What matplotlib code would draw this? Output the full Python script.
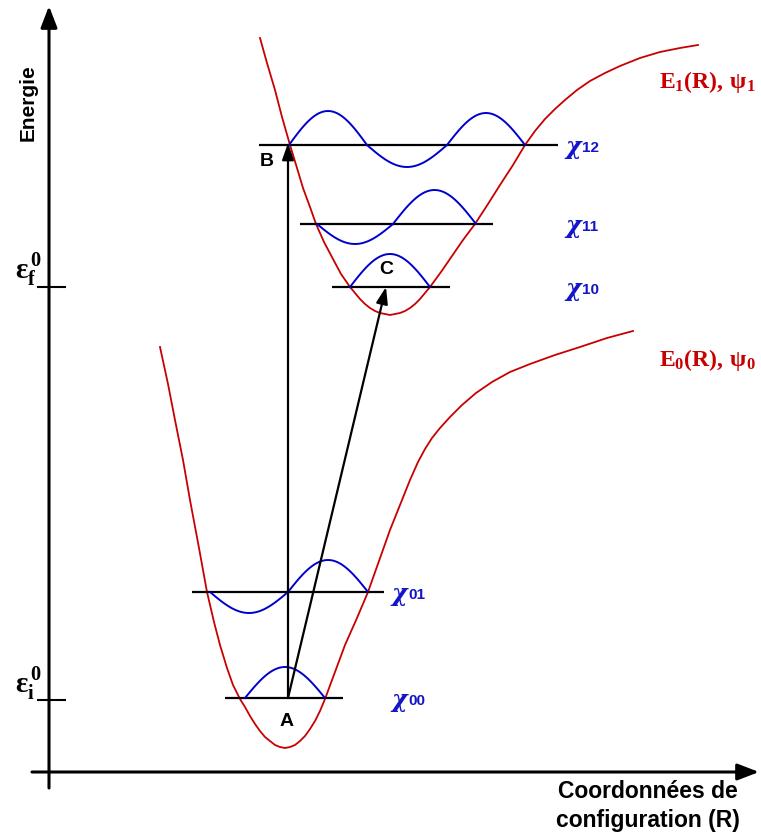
import numpy as np
import matplotlib
matplotlib.use("Agg")
import matplotlib.pyplot as plt

plt.rcParams['mathtext.fontset'] = 'custom'
plt.rcParams['mathtext.rm'] = 'Liberation Serif:bold'
plt.rcParams['mathtext.it'] = 'Liberation Serif:bold'
plt.rcParams['mathtext.bf'] = 'Liberation Serif:bold'

RED = '#C80000'
BLUE = '#0000CC'
LABEL_BLUE = '#1414C8'

# ground state potential E0(R) (pixel coords)
e0_x = [160, 168, 175, 183, 190, 199, 207, 214, 220, 227, 233, 240, 245, 250, 255, 260, 265,
        270, 275, 280, 285, 290, 295, 300, 305, 310, 315, 320, 325, 335, 345, 357, 368, 379,
        390, 400, 410, 418, 425, 432, 440, 450, 462, 476, 492, 510, 530, 555, 580, 607, 633]
e0_y = [347, 384, 420, 460, 500, 548, 592, 622, 645, 668, 685, 699, 707, 716, 724, 731, 737,
        741, 745, 747, 748, 747, 745, 741, 736, 729, 721, 711, 699, 672, 645, 618, 592, 561,
        530, 505, 480, 462, 449, 438, 428, 417, 405, 393, 382, 372, 364, 355, 347, 338, 331]

# excited state potential E1(R)
e1_x = [260, 267, 275, 282, 290, 297, 303, 310, 316, 324, 333, 341, 350, 355, 360, 365, 370,
        375, 380, 385, 390, 395, 400, 405, 410, 415, 420, 425, 430, 441, 452, 463, 475, 488,
        500, 513, 525, 535, 545, 555, 565, 577, 590, 605, 620, 640, 660, 680, 698]
e1_y = [38, 63, 90, 117, 145, 168, 188, 207, 224, 242, 259, 274, 287, 293, 299, 304, 308,
        311, 313, 314, 315, 314, 313, 311, 308, 304, 299, 293, 287, 272, 256, 240, 224, 204,
        185, 165, 145, 131, 119, 109, 100, 90, 81, 73, 66, 58, 52, 48, 45]

# vibrational levels: name, energy (y), line start, line end
level_names = ['00', '01', '10', '11', '12']
level_y = [698, 592, 287, 224, 145]
level_x0 = [225, 192, 332, 300, 259]
level_x1 = [343, 384, 450, 493, 558]
label_x = [391, 391, 565, 565, 565]

# wavefunction lobes: nodes along the level and lobe heights (px, + is up)
wave_nodes = [
    [245, 325],
    [210, 288, 368],
    [350, 430],
    [317, 393, 476],
    [289, 367, 447, 525],
]
wave_heights = [
    [31],
    [-21, 32],
    [33],
    [-20, 34],
    [34, -22, 32],
]

fig = plt.figure(figsize=(7.61, 8.36), dpi=100)
ax = fig.add_axes([0, 0, 1, 1])
ax.set_xlim(0, 761)
ax.set_ylim(836, 0)
ax.axis('off')

# axes with arrows
ax.annotate('', xy=(49, 6), xytext=(49, 788),
            arrowprops=dict(arrowstyle='-|>,head_length=1.3,head_width=0.5', color='black', lw=2.2,
                            shrinkA=0, shrinkB=0))
ax.annotate('', xy=(759, 772), xytext=(32, 772),
            arrowprops=dict(arrowstyle='-|>,head_length=1.3,head_width=0.5', color='black', lw=2.2,
                            shrinkA=0, shrinkB=0))
for ty in [287, 700]:
    ax.plot([37, 66], [ty, ty], color='black', lw=1.5, solid_capstyle='butt')

# potential curves
ax.plot(e0_x, e0_y, color=RED, lw=1.3)
ax.plot(e1_x, e1_y, color=RED, lw=1.3)

# levels + wavefunctions
for name, y, x0, x1, lx, nodes, heights in zip(level_names, level_y, level_x0, level_x1,
                                                label_x, wave_nodes, wave_heights):
    ax.plot([x0, x1], [y, y], color='black', lw=1.6, solid_capstyle='butt')
    for a, b, h in zip(nodes[:-1], nodes[1:], heights):
        xs = np.linspace(a, b, 40)
        ax.plot(xs, y - h * np.sin(np.pi * (xs - a) / (b - a)), color=BLUE, lw=1.4)
    ax.text(lx, y + 2, 'χ', family='DejaVu Serif', fontweight='bold', fontstyle='italic',
            fontsize=17, color=LABEL_BLUE, ha='left', va='center')
    ax.text(lx + 17, y + 3, name, family='Liberation Sans', fontweight='bold', fontsize=11,
            color=LABEL_BLUE, ha='left', va='center')

# transitions A -> B and A -> C
ax.annotate('', xy=(288, 143), xytext=(288, 698),
            arrowprops=dict(arrowstyle='-|>,head_length=1.0,head_width=0.35', color='black', lw=1.6,
                            shrinkA=0, shrinkB=0))
ax.annotate('', xy=(386, 287), xytext=(288, 698),
            arrowprops=dict(arrowstyle='-|>,head_length=1.0,head_width=0.35', color='black', lw=1.6,
                            shrinkA=0, shrinkB=0))

pt_kw = dict(family='Liberation Sans', fontweight='bold', fontsize=14, color='black',
             ha='center', va='center')
ax.text(267, 162, 'B', **pt_kw)
ax.text(386, 270, 'C', **pt_kw)
ax.text(287, 721, 'A', **pt_kw)

# state labels
ax.text(659, 82, r'$\mathrm{E_1(R),\,\psi_1}$', fontsize=17, color=RED, ha='left', va='center')
ax.text(659, 360, r'$\mathrm{E_0(R),\,\psi_0}$', fontsize=17, color=RED, ha='left', va='center')

# energy labels
ax.text(42, 270, r'$\mathrm{\varepsilon_f^{\,0}}$', fontsize=21, color='black', ha='right', va='center')
ax.text(42, 684, r'$\mathrm{\varepsilon_i^{\,0}}$', fontsize=21, color='black', ha='right', va='center')

# axis titles
ax.text(28, 103, 'Energie', family='Liberation Sans', fontweight='bold', fontsize=15,
        rotation=90, ha='center', va='center')
ax.text(648, 806, 'Coordonnées de\nconfiguration (R)', family='Liberation Sans',
        fontweight='bold', fontsize=16.5, ha='center', va='center', linespacing=1.3)

fig.savefig('out.png', dpi=100)
